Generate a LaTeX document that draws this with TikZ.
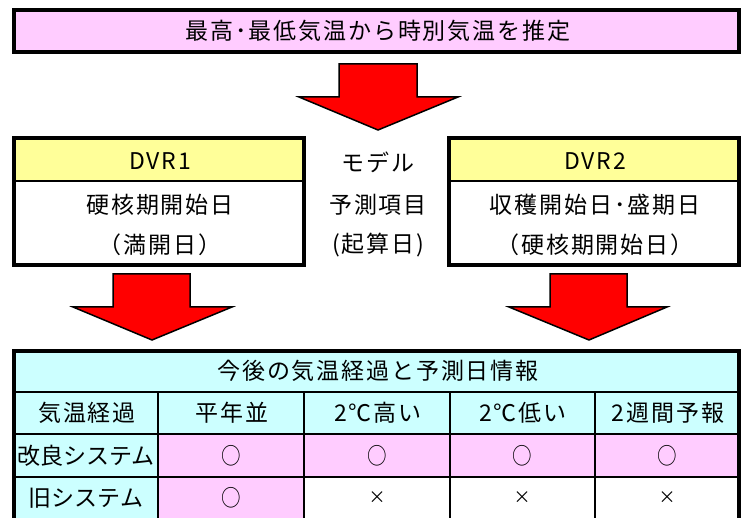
\documentclass[tikz,border=0pt]{standalone}
\usepackage{fontspec}
\setmainfont{Noto Sans CJK JP}
\definecolor{pinkc}{HTML}{FFCCFF}
\definecolor{yellowc}{HTML}{FFFF99}
\definecolor{cyanc}{HTML}{CCFFFF}
\definecolor{redc}{HTML}{FF0000}
\begin{document}
\begin{tikzpicture}[x=1pt,y=-1pt,
  txt/.style={font=\fontsize{23}{26}\selectfont, inner sep=0pt},
  txtw/.style={font=\fontsize{23}{26}\selectfont\addfontfeature{LetterSpace=8}, inner sep=0pt},
  thickbox/.style={draw=black, line width=4pt},
  blockarrow/.style={fill=redc, draw=black, line width=1.5pt, line join=miter}]
\useasboundingbox (0,0) rectangle (747,518);
\clip (0,0) rectangle (747,518);

% title
\node[thickbox, fill=pinkc, minimum width=725pt, minimum height=42pt, inner sep=0pt] (title) at (376.5,31) {};
\node[txtw] (titletxt) at (378,31) {最高･最低気温から時別気温を推定};

% arrow 1
\draw[blockarrow] (339,64) -- (417,64) -- (417,97) -- (458,97) -- (378,130) -- (299,97) -- (339,97) -- cycle;

% left box
\fill[yellowc] (14,138) rectangle (304,181);
\draw[line width=2pt] (14,181) -- (304,181);
\draw[thickbox] (14,138) rectangle (304,265);
\node[txtw] (dvr1) at (160,161) {DVR1};
\node[txtw] (l1) at (160,205) {硬核期開始日};
\node[txtw] (l2) at (160,245) {（満開日）};

% right box
\fill[yellowc] (449,138) rectangle (739,181);
\draw[line width=2pt] (449,181) -- (739,181);
\draw[thickbox] (449,138) rectangle (739,265);
\node[txtw] (dvr2) at (595,161) {DVR2};
\node[txtw] (r1) at (595,205) {収穫開始日･盛期日};
\node[txtw] (r2) at (595,245) {（硬核期開始日）};

% middle
\node[txtw] (m1) at (378,162) {モデル};
\node[txtw] (m2) at (378,205) {予測項目};
\node[txtw] (m3) at (378,245) {(起算日)};

% arrows 2,3
\draw[blockarrow] (113,274) -- (190,274) -- (190,307) -- (232,307) -- (152,340) -- (73,307) -- (113,307) -- cycle;
\draw[blockarrow] (550,274) -- (627,274) -- (627,307) -- (667,307) -- (589,340) -- (509,307) -- (550,307) -- cycle;

% table fills
\fill[cyanc] (14,351) rectangle (739,434);
\fill[cyanc] (14,434) rectangle (158,540);
\fill[pinkc] (158,434) rectangle (739,477);
\fill[pinkc] (158,477) rectangle (304,540);
% grid
\draw[line width=2pt] (14,392) -- (739,392);
\draw[line width=2pt] (14,434) -- (739,434);
\draw[line width=2pt] (14,477) -- (739,477);
\foreach \x in {158,304,450,595} \draw[line width=2pt] (\x,392) -- (\x,540);
\draw[thickbox] (14,351) rectangle (739,560);

% table texts
\node[txtw] (th) at (378,371) {今後の気温経過と予測日情報};
\node[txtw] (h1) at (87,413) {気温経過};
\node[txtw] (h2) at (232,413) {平年並};
\node[txtw] (h3) at (378,413) {2℃高い};
\node[txtw] (h4) at (523,413) {2℃低い};
\node[txtw] (h5) at (668,413) {2週間予報};
\node[txt] (a1) at (86,456) {改良システム};
\node[txt] (a2) at (231,456) {\scalebox{0.85}[1]{○}};
\node[txt] (a3) at (377,456) {\scalebox{0.85}[1]{○}};
\node[txt] (a4) at (522,456) {\scalebox{0.85}[1]{○}};
\node[txt] (a5) at (667,456) {\scalebox{0.85}[1]{○}};
\node[txt] (b1) at (86,498) {旧システム};
\node[txt] (b2) at (231,498) {\scalebox{0.85}[1]{○}};
\node[txt, font=\fontsize{17}{19}\selectfont] (b3) at (377,498) {×};
\node[txt, font=\fontsize{17}{19}\selectfont] (b4) at (522,498) {×};
\node[txt, font=\fontsize{17}{19}\selectfont] (b5) at (667,498) {×};
\end{tikzpicture}
\end{document}
